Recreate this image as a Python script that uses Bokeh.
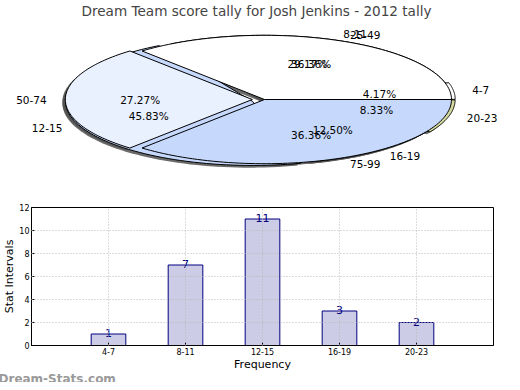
import numpy as np
from bokeh.plotting import figure
from bokeh.models import Title, Range1d, FactorRange, FixedTicker
from bokeh.embed import file_html
from bokeh.resources import INLINE
from bokeh.core.properties import value

# ---------------- data ----------------
TITLE = "Dream Team score tally for Josh Jenkins - 2012 tally"
bins = ["4-7", "8-11", "12-15", "16-19", "20-23"]
counts = [1, 7, 11, 3, 2]
ranges2 = ["25-49", "50-74", "75-99"]
counts2 = [4, 3, 4]
y_ticks = [0, 2, 4, 6, 8, 10, 12]

colors1 = ["#ffffff", "#eaf1fe", "#c6d9fd", "#b6cbf2", "#d3d99e"]
colors2 = ["#ffffff", "#eaf1fe", "#c6d9fd"]
explode1 = [0.02, 0.0, 0.07, 0.0, 0.02]
explode2 = [0.0, 0.065, 0.0]

FONT = "DejaVu Sans"

# ---------------- pie figure ----------------
W = 512
PH = 180
TOP = 17
cxp, cyp, rx, ry = 264, 98, 187, 65
f_top, f_bot = TOP, PH
x0 = -cxp / rx
x1 = (W - cxp) / rx
y1 = (cyp - f_top) / ry
y0 = -(f_bot - cyp) / ry

p = figure(width=W, height=PH, output_backend="svg", toolbar_location=None,
           x_range=Range1d(x0, x1), y_range=Range1d(y0, y1),
           x_axis_type=None, y_axis_type=None,
           min_border_left=0, min_border_right=0, min_border_bottom=0,
           min_border_top=TOP, title=TITLE)
p.grid.visible = False
p.outline_line_color = None
p.title.align = "center"
p.title.text_font = FONT
p.title.text_font_size = "13.6px"
p.title.text_font_style = "normal"
p.title.standoff = 1
p.title.offset = 0


def pie_geometry(vals, explode):
    vals = np.asarray(vals, dtype=float)
    frac = vals / vals.sum()
    ends = np.cumsum(frac) * 2 * np.pi
    starts = ends - frac * 2 * np.pi
    xs, ys, mids, ox, oy = [], [], [], [], []
    for a0, a1, ex in zip(starts, ends, explode):
        m = (a0 + a1) / 2
        dx, dy = ex * np.cos(m), ex * np.sin(m)
        t = np.linspace(a0, a1, 80)
        xs.append(np.concatenate([[dx], dx + np.cos(t), [dx]]))
        ys.append(np.concatenate([[dy], dy + np.sin(t), [dy]]))
        mids.append(m)
        ox.append(dx)
        oy.append(dy)
    return xs, ys, np.array(mids), np.array(ox), np.array(oy), frac


g1 = pie_geometry(counts, explode1)
g2 = pie_geometry(counts2, explode2)

# shadows
for g in (g1, g2):
    p.patches([x - 0.016 for x in g[0]], [y - 0.035 for y in g[1]],
              fill_color="#505050", fill_alpha=0.85, line_color=None)
# wedges
p.patches(g1[0], g1[1], fill_color=colors1, line_color="black", line_width=1)
p.patches(g2[0], g2[1], fill_color=colors2, line_color="black", line_width=1)


def pie_labels(g, names):
    xs, ys, mids, ox, oy, frac = g
    lx = ox + 1.1 * np.cos(mids)
    ly = oy + 1.1 * np.sin(mids)
    right = lx > 0
    for align, mask in (("left", right), ("right", ~right)):
        p.text(x=lx[mask], y=ly[mask], text=[n for n, m in zip(names, mask) if m],
               text_align=align, text_baseline="middle", text_font=value(FONT),
               text_font_size="10.5px", text_color="black")
    px = ox + 0.6 * np.cos(mids)
    py = oy + 0.6 * np.sin(mids)
    p.text(x=px, y=py, text=["%.2f%%" % (f * 100) for f in frac],
           text_align="center", text_baseline="middle", text_font=value(FONT),
           text_font_size="10.5px", text_color="black")


pie_labels(g1, bins)
pie_labels(g2, ranges2)

# ---------------- bar figure ----------------
BH = 202
b = figure(width=W, height=BH, output_backend="svg", toolbar_location=None,
           x_range=FactorRange(*bins, range_padding=0.5, range_padding_units="absolute"),
           y_range=Range1d(0, 12),
           min_border_top=27, min_border_right=19, min_border_left=0, min_border_bottom=0)
b.vbar(x=bins, top=counts, width=0.45, fill_color="#ccccE6", line_color="#000080", line_width=1)
b.text(x=bins, y=counts, text=[str(c) for c in counts], text_align="center",
       text_baseline="bottom", y_offset=3, text_font=value(FONT), text_font_size="11px",
       text_color="#000080")

b.outline_line_color = "black"
b.outline_line_width = 1
b.yaxis.ticker = FixedTicker(ticks=y_ticks)
for ax in (b.xaxis[0], b.yaxis[0]):
    ax.major_tick_in = 3
    ax.major_tick_out = 0
    ax.minor_tick_line_color = None
    ax.major_label_text_font = FONT
    ax.major_label_text_font_size = "8px"
    ax.major_label_text_color = "black"
    ax.axis_label_text_font = FONT
    ax.axis_label_text_font_size = "11px"
    ax.axis_label_text_font_style = "normal"
    ax.axis_label_text_color = "black"
    ax.axis_line_color = "black"
    ax.major_label_standoff = 2
    ax.axis_label_standoff = 0
b.xaxis.axis_label = "Frequency"
b.yaxis.axis_label = "Stat Intervals"
b.grid.grid_line_color = "#b8b8b8"
b.grid.grid_line_dash = "1 2"
b.grid.level = "overlay"

wm = Title(text="Dream-Stats.com", align="left", offset=-33, standoff=-7,
           text_font=FONT, text_font_size="12px", text_font_style="bold",
           text_color="#9a9a9a")
b.add_layout(wm, "below")

open("out.html", "w").write(file_html([p, b], INLINE))
